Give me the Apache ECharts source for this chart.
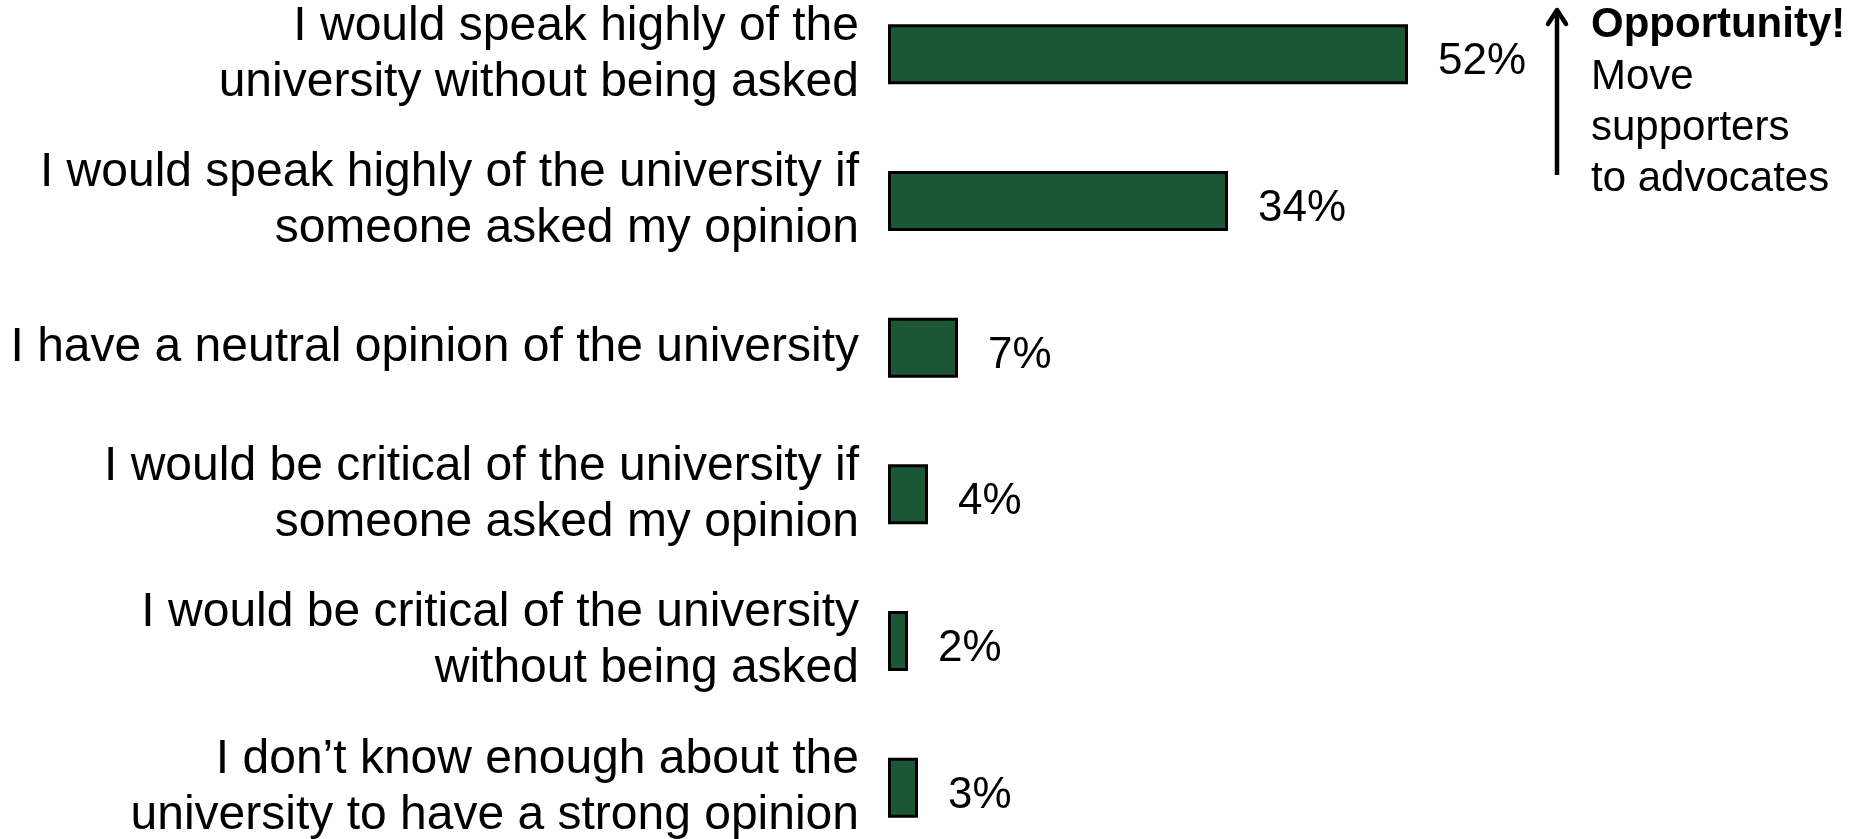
<!DOCTYPE html>
<html>
<head>
<meta charset="utf-8">
<title>University advocacy</title>
<script src="https://cdn.jsdelivr.net/npm/echarts@6/dist/echarts.min.js"></script>
<style>
  html, body { margin: 0; padding: 0; background: #ffffff; }
  #chart { width: 1856px; height: 839px; }
</style>
</head>
<body>
<div id="chart"></div>
<script>
// Survey responses: how respondents would talk about the university
const categories = [
  'I would speak highly of the\nuniversity without being asked',
  'I would speak highly of the university if\nsomeone asked my opinion',
  'I have a neutral opinion of the university',
  'I would be critical of the university if\nsomeone asked my opinion',
  'I would be critical of the university\nwithout being asked',
  'I don\u2019t know enough about the\nuniversity to have a strong opinion'
];
const shares = [52, 34, 7, 4, 2, 3];
const calloutTitle = 'Opportunity!';
const calloutLines = ['Move', 'supporters', 'to advocates'];

const FONT = '"Liberation Sans", Arial, sans-serif';
const chart = echarts.init(document.getElementById('chart'), null, { renderer: 'canvas' });

chart.setOption({
  backgroundColor: '#ffffff',
  animation: false,
  grid: {
    left: 888, right: 68, top: -19, bottom: -22,
    containLabel: false,
    outerBoundsMode: 'none'
  },
  xAxis: {
    type: 'value', min: 0, max: 90, show: false
  },
  yAxis: {
    type: 'category',
    inverse: true,
    data: categories,
    axisLine: { show: false },
    axisTick: { show: false },
    splitLine: { show: false },
    axisLabel: {
      margin: 29,
      color: '#000000',
      fontFamily: FONT,
      fontSize: 48,
      lineHeight: 56,
      padding: [5, 0, 0, 0],
      align: 'right'
    }
  },
  series: [{
    type: 'bar',
    data: shares,
    barWidth: 60,
    itemStyle: { color: '#1B5734', borderColor: '#000000', borderWidth: 3 },
    label: {
      show: true,
      position: 'right',
      distance: 30,
      offset: [0, 8],
      formatter: '{c}%',
      color: '#000000',
      fontFamily: FONT,
      fontSize: 44
    }
  }],
  graphic: [
    // upward arrow beside the top two bars
    {
      type: 'line',
      shape: { x1: 1557, y1: 12, x2: 1557, y2: 175 },
      style: { stroke: '#000000', lineWidth: 4.5 }
    },
    {
      type: 'polyline',
      shape: { points: [[1548, 24], [1557, 10], [1566, 24]] },
      style: { stroke: '#000000', lineWidth: 4.5, fill: null, lineJoin: 'round', lineCap: 'round' }
    },
    {
      type: 'text',
      left: 1591, top: 0,
      style: {
        text: calloutTitle,
        fontFamily: FONT, fontSize: 42, fontWeight: 'bold',
        fill: '#000000', lineHeight: 50
      }
    },
    {
      type: 'text',
      left: 1591, top: 52,
      style: {
        text: calloutLines.join('\n'),
        fontFamily: FONT, fontSize: 42,
        fill: '#000000', lineHeight: 51
      }
    }
  ]
});
</script>
</body>
</html>
